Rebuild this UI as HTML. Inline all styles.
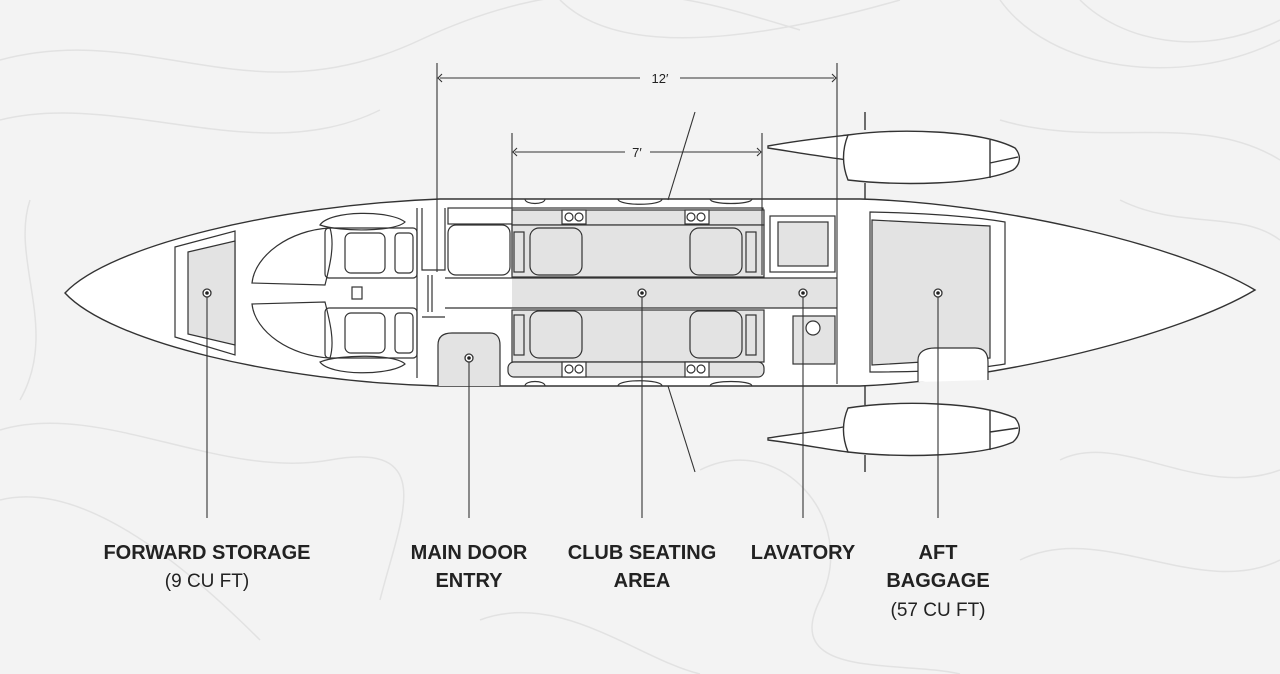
<!DOCTYPE html>
<html><head><meta charset="utf-8"><style>
html,body{margin:0;padding:0;background:#f3f3f3;}
svg{display:block}
text{font-family:"Liberation Sans",sans-serif;fill:#222}
</style></head><body>
<svg width="1280" height="674" viewBox="0 0 1280 674" xmlns="http://www.w3.org/2000/svg">
<rect width="1280" height="674" fill="#f3f3f3"/>
<g fill="none" stroke="#e2e2e2" stroke-width="1.5">
<path d="M0,60 C150,20 250,120 420,40 S700,0 800,30"/>
<path d="M0,120 C120,90 260,170 380,110"/>
<path d="M560,0 C620,60 760,40 900,0"/>
<path d="M1000,0 C1050,70 1180,90 1280,40"/>
<path d="M1080,0 C1120,40 1200,60 1280,20"/>
<path d="M1000,120 C1100,150 1200,110 1280,160"/>
<path d="M0,430 C100,400 220,480 330,460 S400,520 380,600"/>
<path d="M0,500 C80,480 180,560 260,640"/>
<path d="M700,470 C780,430 860,520 820,600 S900,660 960,674"/>
<path d="M1060,460 C1120,430 1200,500 1280,470"/>
<path d="M1020,560 C1100,520 1200,600 1280,560"/>
<path d="M480,620 C560,590 640,660 700,674"/>
<path d="M1120,200 C1180,230 1240,210 1280,240"/>
<path d="M30,200 C10,260 60,330 20,400"/>
</g>
<g stroke="#333" stroke-width="1.4" fill="#fff">
<path d="M768,146 C800,140 830,137 848,135 L848,160 C830,158 800,153 768,148Z"/>
<path d="M848,135 C900,128 980,130 1015,148 C1022,156 1020,165 1013,170 C980,185 900,186 848,180 C842,165 842,150 848,135Z"/>
<path d="M768,438 C800,433 830,430 848,426 L848,452 C830,450 800,444 768,440Z"/>
<path d="M848,408 C900,400 980,402 1015,418 C1022,426 1020,436 1013,442 C980,457 900,458 848,452 C842,437 842,422 848,408Z"/>
<path d="M990,140 L990,178 M990,163 L1018,157 M990,410 L990,450 M990,432 L1018,428" fill="none"/>
<line x1="865" y1="112" x2="865" y2="130"/><line x1="865" y1="183" x2="865" y2="199"/>
<line x1="865" y1="386" x2="865" y2="405"/><line x1="865" y1="455" x2="865" y2="472"/>
<path d="M65,293 C110,245 280,205 440,199 L860,199 C1000,203 1180,245 1255,290 C1180,335 1000,380 860,386 L440,386 C280,382 110,342 65,293Z"/>
</g>
<g stroke="#333" stroke-width="1.2" fill="none">
<path d="M175,247 L235,231 L235,355 L175,337Z"/>
<path d="M188,252 L235,241 L235,345 L188,334Z" fill="#e3e3e3"/>
<path d="M320,225 C330,210 390,210 405,222 C395,232 340,232 320,225Z"/>
<path d="M320,362 C330,376 390,376 405,364 C395,354 340,354 320,362Z"/>
<path d="M330,228 C290,230 255,255 252,283 L325,285 C330,265 335,245 330,228Z"/>
<path d="M330,358 C290,356 255,332 252,304 L325,302 C330,322 335,342 330,358Z"/>
<rect x="325" y="228" width="92" height="50" rx="4"/>
<rect x="325" y="308" width="92" height="50" rx="4"/>
<rect x="345" y="233" width="40" height="40" rx="6"/>
<rect x="345" y="313" width="40" height="40" rx="6"/>
<rect x="395" y="233" width="18" height="40" rx="4"/>
<rect x="395" y="313" width="18" height="40" rx="4"/>
<rect x="352" y="287" width="10" height="12"/>
<line x1="417" y1="208" x2="417" y2="378"/>
<path d="M422,208 L422,270 L445,270 L445,208 M422,317 L445,317 M428,275 L428,312 M432,275 L432,312"/>
<path d="M438,386 L438,345 C438,336 444,333 452,333 L490,333 C497,333 500,338 500,345 L500,386" fill="#e3e3e3"/>
<rect x="448" y="208" width="315" height="16" fill="none"/>
<rect x="512" y="210" width="252" height="15" fill="#e3e3e3"/>
<rect x="512" y="225" width="252" height="52" fill="#e3e3e3"/>
<rect x="448" y="225" width="62" height="50" rx="8" fill="#fff"/>
<rect x="512" y="278" width="325" height="30" fill="#e3e3e3" stroke="none"/>
<line x1="445" y1="278" x2="837" y2="278"/><line x1="445" y1="308" x2="837" y2="308"/>
<rect x="512" y="310" width="252" height="52" fill="#e3e3e3"/>
<rect x="508" y="362" width="256" height="15" rx="6" fill="#e3e3e3"/>
<g fill="#e3e3e3">
<rect x="530" y="228" width="52" height="47" rx="9"/><rect x="690" y="228" width="52" height="47" rx="9"/>
<rect x="530" y="311" width="52" height="47" rx="9"/><rect x="690" y="311" width="52" height="47" rx="9"/>
<rect x="514" y="232" width="10" height="40"/><rect x="746" y="232" width="10" height="40"/>
<rect x="514" y="315" width="10" height="40"/><rect x="746" y="315" width="10" height="40"/>
</g>
<g fill="#fff">
<rect x="562" y="210" width="24" height="14"/><rect x="685" y="210" width="24" height="14"/>
<rect x="562" y="362" width="24" height="15"/><rect x="685" y="362" width="24" height="15"/>
<circle cx="569" cy="217" r="4"/><circle cx="579" cy="217" r="4"/><circle cx="691" cy="217" r="4"/><circle cx="701" cy="217" r="4"/>
<circle cx="569" cy="369" r="4"/><circle cx="579" cy="369" r="4"/><circle cx="691" cy="369" r="4"/><circle cx="701" cy="369" r="4"/>
</g>
<path d="M525,199 C525,205 545,205 545,199 M618,199 C618,206 662,206 662,199 M710,199 C710,205 752,205 752,199"/>
<path d="M525,386 C525,380 545,380 545,386 M618,386 C618,379 662,379 662,386 M710,386 C710,380 752,380 752,386"/>
<rect x="770" y="216" width="65" height="56"/>
<rect x="778" y="222" width="50" height="44" fill="#e3e3e3"/>
<rect x="793" y="316" width="42" height="48" fill="#e3e3e3"/>
<circle cx="813" cy="328" r="7" fill="#fff"/>
<path d="M870,212 C920,213 970,216 1005,222 L1005,364 C970,370 920,372 870,372Z" fill="#fff"/>
<path d="M872,220 L990,226 L990,358 L872,365Z" fill="#e3e3e3"/>
<path d="M918,382 L918,360 C918,352 925,348 935,348 L975,348 C985,348 988,354 988,362 L988,380" fill="#fff"/>
</g>
<g stroke="#333" stroke-width="1.1" fill="none">
<line x1="437" y1="63" x2="437" y2="272"/><line x1="837" y1="63" x2="837" y2="384"/>
<line x1="440" y1="78" x2="640" y2="78"/><line x1="680" y1="78" x2="834" y2="78"/>
<path d="M442,74 L438,78 L442,82 M832,74 L836,78 L832,82"/>
<line x1="512" y1="133" x2="512" y2="275"/><line x1="762" y1="133" x2="762" y2="275"/>
<line x1="515" y1="152" x2="625" y2="152"/><line x1="650" y1="152" x2="759" y2="152"/>
<path d="M517,148 L513,152 L517,156 M757,148 L761,152 L757,156"/>
<line x1="695" y1="112" x2="668" y2="200"/><line x1="668" y1="386" x2="695" y2="472"/>
<line x1="207" y1="293" x2="207" y2="518"/><line x1="469" y1="358" x2="469" y2="518"/>
<line x1="642" y1="293" x2="642" y2="518"/><line x1="803" y1="293" x2="803" y2="518"/>
<line x1="938" y1="293" x2="938" y2="518"/>
</g>
<g fill="#fff" stroke="#333" stroke-width="1.3">
<circle cx="207" cy="293" r="4"/><circle cx="469" cy="358" r="4"/><circle cx="642" cy="293" r="4"/><circle cx="803" cy="293" r="4"/><circle cx="938" cy="293" r="4"/>
</g>
<g fill="#222"><circle cx="207" cy="293" r="1.8"/><circle cx="469" cy="358" r="1.8"/><circle cx="642" cy="293" r="1.8"/><circle cx="803" cy="293" r="1.8"/><circle cx="938" cy="293" r="1.8"/></g>
<text x="660" y="83" font-size="13" text-anchor="middle">12′</text>
<text x="637" y="157" font-size="13" text-anchor="middle">7′</text>
<g font-size="20" font-weight="bold" text-anchor="middle">
<text x="207" y="559">FORWARD STORAGE</text>
<text x="469" y="559">MAIN DOOR</text><text x="469" y="587">ENTRY</text>
<text x="642" y="559">CLUB SEATING</text><text x="642" y="587">AREA</text>
<text x="803" y="559">LAVATORY</text>
<text x="938" y="559">AFT</text><text x="938" y="587">BAGGAGE</text>
</g>
<g font-size="19" text-anchor="middle">
<text x="207" y="587">(9 CU FT)</text>
<text x="938" y="616">(57 CU FT)</text>
</g>
</svg>
</body></html>
